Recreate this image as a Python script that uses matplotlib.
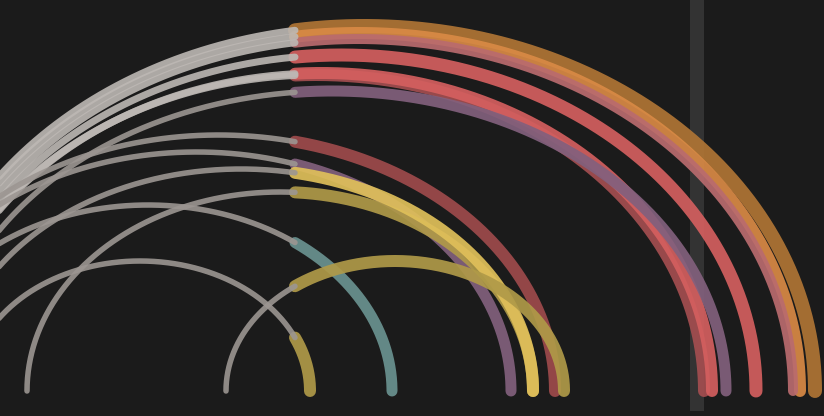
import numpy as np
import matplotlib
matplotlib.use("Agg")
import matplotlib.pyplot as plt

# arc data: left end, right end, peak height (pixel-like units)
left_ends = [-87, -83, -77, -74, -72, -70, -62, -118, -118, 27, -51, -96, 226, -30]
right_ends = [815, 800, 793, 756, 704, 712, 726, 555, 511, 533, 533, 392, 564, 310]
heights = [365, 358, 352, 336, 316, 318, 300, 256, 239, 199, 222, 186, 130, 130]
arc_colors = ['#b07535', '#d98a45', '#b96b6e', '#d45f5f', '#a44e50', '#d45f5f', '#82607d',
              '#9e4a4c', '#82607d', '#b09a48', '#e0c05a', '#6a9290', '#b09a48', '#b09a48']
arc_widths = [14, 12, 10, 13, 12, 12, 11, 12, 11, 12, 12, 11, 12, 12]
gray_colors = ['#bdb8b4'] * 6 + ['#9c9692'] * 8
gray_widths = [7, 7, 7, 7, 7, 7, 5.5, 5.5, 5.5, 5.5, 5.5, 5.5, 5.5, 5.5]

split_x = 295
band_x = 697
baseline = 25

fig = plt.figure(figsize=(8.24, 4.16), dpi=100)
fig.patch.set_facecolor('#1b1b1b')
ax = fig.add_axes([0, 0, 1, 1])
ax.set_facecolor('#1b1b1b')

# vertical marker band
ax.axvspan(band_x - 7, band_x + 7, ymin=5 / 416, ymax=1, color='#333333', lw=0, zorder=0)

px = 0.72  # points per pixel at 100 dpi
for i in range(len(left_ends)):
    c = (left_ends[i] + right_ends[i]) / 2
    a = (right_ends[i] - left_ends[i]) / 2
    ts = np.arccos(np.clip((split_x - c) / a, -1, 1))
    t_gray = np.linspace(np.pi, ts, 200)
    t_col = np.linspace(ts, 0, 300)
    ax.plot(c + a * np.cos(t_col), baseline + heights[i] * np.sin(t_col),
            color=arc_colors[i], lw=arc_widths[i] * px, alpha=0.92,
            solid_capstyle='round', zorder=2)
    ax.plot(c + a * np.cos(t_gray), baseline + heights[i] * np.sin(t_gray),
            color=gray_colors[i], lw=gray_widths[i] * px, alpha=0.9,
            solid_capstyle='round', zorder=3)

ax.set_xlim(0, 824)
ax.set_ylim(0, 416)
ax.axis('off')

plt.savefig('out.png', dpi=100, facecolor=fig.get_facecolor())
